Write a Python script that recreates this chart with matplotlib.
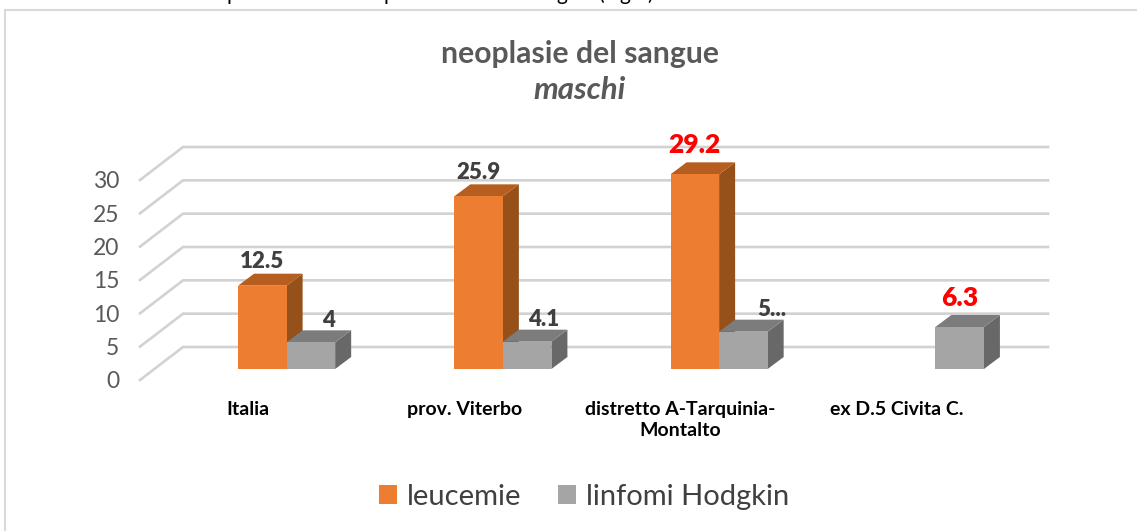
import numpy as np
import matplotlib.pyplot as plt
from matplotlib.patches import Patch, Polygon, Rectangle

plt.rcParams['font.family'] = ['Lato', 'DejaVu Sans']

categories = ['Italia', 'prov. Viterbo', 'distretto A-Tarquinia-\nMontalto', 'ex D.5 Civita C.']
leucemie = [12.5, 25.9, 29.2, np.nan]
linfomi = [4, 4.1, 5.6, 6.3]
leucemie_labels = ['12.5', '25.9', '29.2', '']
linfomi_labels = ['4', '4.1', '5...', '6.3']
leucemie_label_colors = ['#404040', '#404040', 'red', 'red']
linfomi_label_colors = ['#404040', '#404040', '#404040', 'red']
linfomi_label_dx = [18, 17, 28, 0]
y_ticks = [0, 5, 10, 15, 20, 25, 30]

W, H = 1137, 531
fig = plt.figure(figsize=(W / 100, H / 100), dpi=100)
fig.patch.set_facecolor('white')

# axes = piano frontale del grafico 3D finto
ax = fig.add_axes([140 / W, 1 - 380 / H, 865 / W, 200 / H])
ax.set_xlim(-0.5, 3.5)
ax.set_ylim(0, 30)
for s in ax.spines.values():
    s.set_visible(False)
ax.patch.set_alpha(0)

# profondita in unita dati
wall_dx, wall_dy = 0.199, 4.95
base_dx, base_dy = 0.178, 1.65
bar_dx, bar_dy = 0.074, 1.8
bar_w = 0.2245

# griglia: diagonale sul pavimento e poi parete di fondo
for v in y_ticks:
    ax.plot([-0.5, -0.5 + wall_dx, 3.5 + wall_dx], [v, v + wall_dy, v + wall_dy],
            color='#d2d2d2', lw=1.9, clip_on=False, zorder=1, solid_joinstyle='miter')


def bar3d(x0, v, front, top, side, z):
    if np.isnan(v):
        return
    y0 = base_dy
    y1 = base_dy + v
    x1 = x0 + bar_w
    ax.add_patch(Polygon([(x1, y0), (x1 + bar_dx, y0 + bar_dy), (x1 + bar_dx, y1 + bar_dy), (x1, y1)],
                         fc=side, ec='none', clip_on=False, zorder=z))
    ax.add_patch(Polygon([(x0, y1), (x0 + bar_dx, y1 + bar_dy), (x1 + bar_dx, y1 + bar_dy), (x1, y1)],
                         fc=top, ec='none', clip_on=False, zorder=z))
    ax.add_patch(Rectangle((x0, y0), bar_w, v, fc=front, ec='none', clip_on=False, zorder=z + 0.1))


for i in range(len(categories)):
    c = i + base_dx
    bar3d(c - bar_w, leucemie[i], '#ED7D31', '#B55E20', '#96501A', 3)
    bar3d(c, linfomi[i], '#A5A5A5', '#7C7C7C', '#686868', 4)

    if leucemie_labels[i]:
        red = leucemie_label_colors[i] == 'red'
        ax.annotate(leucemie_labels[i], (c - bar_w / 2, base_dy + leucemie[i]), xytext=(0, 29 if red else 24),
                    textcoords='offset pixels', ha='center', va='center', annotation_clip=False,
                    fontsize=19 if red else 16, fontweight='heavy', color=leucemie_label_colors[i], zorder=6)
    red = linfomi_label_colors[i] == 'red'
    ax.annotate(linfomi_labels[i], (c + bar_w / 2, base_dy + linfomi[i]), xytext=(linfomi_label_dx[i], 29 if red else 22),
                textcoords='offset pixels', ha='center', va='center', annotation_clip=False,
                fontsize=19 if red else 16, fontweight='heavy', color=linfomi_label_colors[i], zorder=6)

ax.set_yticks(y_ticks)
ax.set_yticklabels([str(v) for v in y_ticks], fontsize=16.5, color='#595959')
ax.set_xticks(range(len(categories)))
ax.set_xticklabels(categories, fontsize=14, fontweight='bold', color='black', linespacing=1.3, va='top')
ax.tick_params(axis='both', length=0)
ax.tick_params(axis='y', pad=15)
ax.tick_params(axis='x', pad=15)

fig.text(580 / W, 1 - 54 / H, 'neoplasie del sangue', ha='center', va='center',
         fontsize=21.7, fontweight='bold', color='#595959')
fig.text(580 / W, 1 - 90 / H, 'maschi', ha='center', va='center',
         fontsize=22.5, fontstyle='italic', fontweight='bold', color='#595959')

# cornice esterna, destra e sotto finiscono fuori dalla figura
fig.add_artist(Rectangle((5 / W, -0.1), 1.1, 1.1 - 9.5 / H, transform=fig.transFigure,
                         fc='none', ec='#d9d9d9', lw=1.5))

# riga di testo tagliata in alto
for gx, g in [(232, 'p'), (389, 'p'), (562, 'g'), (602, '('), (625, 'g'), (650, ')')]:
    fig.text(gx / W, 1.0, g, ha='center', va='baseline', fontsize=15, color='black')

handles = [Patch(fc='#ED7D31', label='leucemie'), Patch(fc='#A5A5A5', label='linfomi Hodgkin')]
fig.legend(handles=handles, loc='center', bbox_to_anchor=(584 / W, 1 - 497 / H), ncol=2, frameon=False,
           fontsize=21, handlelength=0.62, handleheight=0.62, handletextpad=0.35, columnspacing=1.25,
           labelcolor='#404040', borderpad=0, borderaxespad=0)

plt.savefig('out.png', dpi=100)
